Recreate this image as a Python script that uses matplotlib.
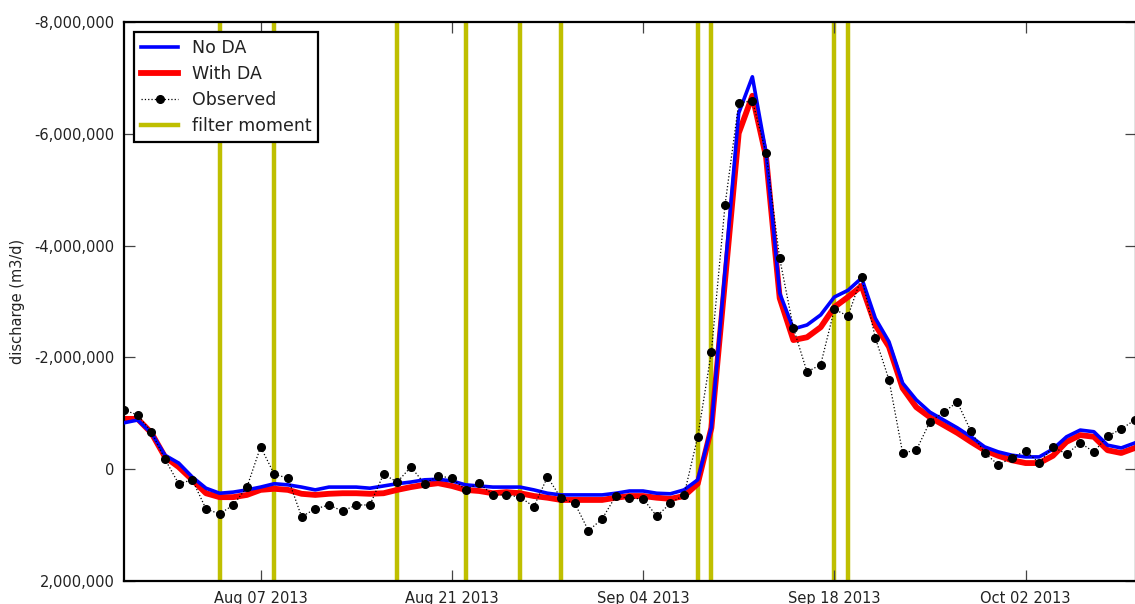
import numpy as np
import pandas as pd
import matplotlib
matplotlib.use("Agg")
import matplotlib.pyplot as plt
import matplotlib.dates as mdates
from matplotlib.ticker import FuncFormatter, MultipleLocator

# daily series, 2013-07-28 .. 2013-10-10
dates = pd.date_range("2013-07-28", "2013-10-10", freq="D")

no_da = [
    -0.83, -0.88, -0.65, -0.25, -0.11, 0.14, 0.34, 0.43, 0.41, 0.37,
    0.32, 0.26, 0.28, 0.32, 0.37, 0.32, 0.32, 0.32, 0.34, 0.30,
    0.26, 0.23, 0.19, 0.18, 0.21, 0.28, 0.30, 0.32, 0.32, 0.32,
    0.37, 0.43, 0.46, 0.46, 0.46, 0.46, 0.43, 0.39, 0.39, 0.43,
    0.44, 0.37, 0.19, -0.75, -3.56, -6.37, -7.02, -5.66, -3.15, -2.51,
    -2.58, -2.76, -3.08, -3.20, -3.42, -2.70, -2.28, -1.54, -1.24, -1.02,
    -0.88, -0.74, -0.58, -0.40, -0.31, -0.25, -0.22, -0.22, -0.36, -0.58,
    -0.70, -0.67, -0.43, -0.38, -0.47,
]
with_da = [
    -0.90, -0.90, -0.65, -0.22, -0.04, 0.19, 0.43, 0.50, 0.50, 0.46,
    0.37, 0.35, 0.37, 0.44, 0.46, 0.44, 0.43, 0.43, 0.44, 0.43,
    0.37, 0.32, 0.28, 0.25, 0.30, 0.37, 0.39, 0.43, 0.41, 0.43,
    0.48, 0.51, 0.55, 0.55, 0.55, 0.55, 0.51, 0.48, 0.48, 0.51,
    0.53, 0.48, 0.26, -0.74, -3.38, -6.01, -6.68, -5.59, -3.06, -2.31,
    -2.36, -2.54, -2.90, -3.08, -3.28, -2.58, -2.19, -1.45, -1.11, -0.93,
    -0.79, -0.65, -0.49, -0.34, -0.24, -0.16, -0.11, -0.11, -0.24, -0.49,
    -0.61, -0.58, -0.34, -0.29, -0.38,
]
observed = [
    -1.06, -0.97, -0.67, -0.18, 0.26, 0.19, 0.71, 0.80, 0.64, 0.32,
    -0.40, 0.09, 0.16, 0.85, 0.71, 0.64, 0.75, 0.64, 0.64, 0.09,
    0.23, -0.04, 0.26, 0.12, 0.16, 0.37, 0.25, 0.46, 0.46, 0.50,
    0.67, 0.14, 0.52, 0.61, 1.10, 0.89, 0.48, 0.52, 0.53, 0.84,
    0.61, 0.46, -0.58, -2.10, -4.73, -6.55, -6.59, -5.66, -3.77, -2.53,
    -1.74, -1.87, -2.86, -2.74, -3.44, -2.35, -1.60, -0.29, -0.34, -0.85,
    -1.02, -1.20, -0.68, -0.29, -0.08, -0.20, -0.33, -0.11, -0.40, -0.27,
    -0.47, -0.31, -0.59, -0.72, -0.88,
]
scale = 1e6
no_da = np.array(no_da) * scale
with_da = np.array(with_da) * scale
observed = np.array(observed) * scale

filter_moments = pd.to_datetime([
    "2013-08-04", "2013-08-08", "2013-08-17", "2013-08-22", "2013-08-26",
    "2013-08-29", "2013-09-08", "2013-09-09", "2013-09-18", "2013-09-19",
])
tick_dates = pd.to_datetime(["2013-08-07", "2013-08-21", "2013-09-04",
                             "2013-09-18", "2013-10-02"])

plt.rcParams["font.family"] = "DejaVu Sans"
text_color = "#222222"

fig = plt.figure(figsize=(11.35, 6.04), dpi=100)
ax = fig.add_axes([124 / 1135, (604 - 581) / 604, (1136 - 124) / 1135, (581 - 22) / 604])

for i, d in enumerate(filter_moments):
    ax.axvline(d, color=(0.75, 0.75, 0.0), lw=3.2, zorder=1,
               label="filter moment" if i == 0 else None)

ax.plot(dates, no_da, color="b", lw=2.6, label="No DA", zorder=3)
ax.plot(dates, with_da, color="r", lw=4.2, label="With DA", zorder=2)
ax.plot(dates, observed, color="k", ls=":", lw=0.9, marker="o", ms=5.5,
        label="Observed", zorder=4)

ax.set_xlim(dates[0], dates[-1] + pd.Timedelta(hours=2))
ax.set_ylim(2e6, -8e6)
ax.yaxis.set_major_locator(MultipleLocator(2e6))
ax.yaxis.set_major_formatter(FuncFormatter(lambda v, p: f"{v:,.0f}"))

ax.set_xticks(tick_dates)
ax.xaxis.set_major_formatter(mdates.DateFormatter("%b %d %Y"))

ax.tick_params(direction="in", length=8, width=0.9, color="#444444",
               top=True, right=True, labelsize=10.5, pad=7,
               labelcolor=text_color)
for s in ax.spines.values():
    s.set_linewidth(1.6)

ax.set_ylabel("discharge (m3/d)", fontsize=10.5, color=text_color)
ax.yaxis.set_label_coords(-0.0975, 0.5)

handles, labels = ax.get_legend_handles_labels()
order = ["No DA", "With DA", "Observed", "filter moment"]
hmap = dict(zip(labels, handles))
leg = ax.legend([hmap[k] for k in order], order, loc="upper left",
                fontsize=12.5, fancybox=False, framealpha=1,
                borderaxespad=0.6, handlelength=2.1, handletextpad=0.8,
                labelspacing=0.45, borderpad=0.4)
leg.get_frame().set_edgecolor("black")
leg.get_frame().set_linewidth(1.6)
for t in leg.get_texts():
    t.set_color(text_color)

fig.savefig("out.png", dpi=100)
